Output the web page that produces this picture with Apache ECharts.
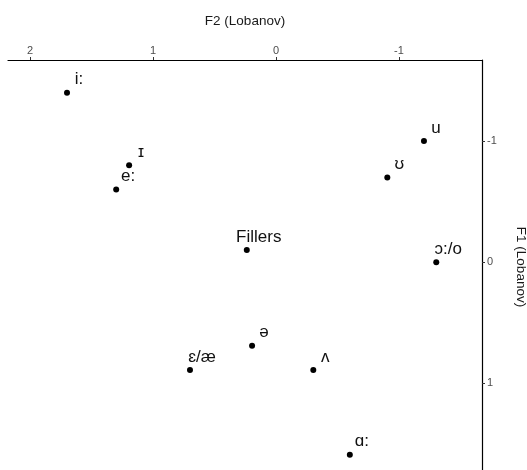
<!DOCTYPE html>
<html>
<head>
<meta charset="utf-8">
<script src="https://cdn.jsdelivr.net/npm/echarts@6/dist/echarts.min.js"></script>
<style>
  html, body { margin: 0; padding: 0; background: #fff; }
  #chart { width: 527px; height: 470px; }
</style>
</head>
<body>
<div id="chart"></div>
<script>
// vowel means, Lobanov normalised
const vowels = ['i:', 'ɪ', 'e:', 'Fillers', 'ə', 'ɛ/æ', 'ʌ', 'u', 'ʊ', 'ɔ:/o', 'ɑ:'];
const f2 = [1.70, 1.195, 1.30, 0.238, 0.195, 0.70, -0.303, -1.203, -0.905, -1.303, -0.60];
const f1 = [-1.40, -0.80, -0.60, -0.10, 0.69, 0.89, 0.89, -1.00, -0.70, 0.00, 1.59];
const f2Ticks = [-1, 0, 1, 2];
const f1Ticks = [-1, 0, 1];

const font = '"Liberation Sans", Arial, "DejaVu Sans", sans-serif';

let points = [];
for (let i = 0; i < vowels.length; i++) {
  points.push({ name: vowels[i], value: [f2[i], f1[i]] });
}

const chart = echarts.init(document.getElementById('chart'));
chart.setOption({
  animation: false,
  grid: { left: 8, right: 45, top: 60, bottom: -4, outerBoundsMode: 'none', containLabel: false },
  xAxis: {
    type: 'value',
    position: 'top',
    inverse: true,
    min: -1.675,
    max: 2.18,
    name: 'F2 (Lobanov)',
    nameLocation: 'middle',
    nameGap: 32,
    nameTextStyle: { fontFamily: font, fontSize: 13.5, color: '#1a1a1a' },
    axisLine: { show: true, onZero: false, lineStyle: { color: '#000', width: 1.2 } },
    axisTick: { show: true, length: 3, customValues: f2Ticks, lineStyle: { color: '#333' } },
    axisLabel: { customValues: f2Ticks, margin: 4, fontFamily: font, fontSize: 11, color: '#4d4d4d' },
    splitLine: { show: false }
  },
  yAxis: {
    type: 'value',
    position: 'right',
    inverse: true,
    min: -1.67,
    max: 1.75,
    name: 'F1 (Lobanov)',
    nameLocation: 'middle',
    nameRotate: -90,
    nameGap: 32,
    nameTextStyle: { fontFamily: font, fontSize: 13.5, color: '#1a1a1a' },
    axisLine: { show: true, onZero: false, lineStyle: { color: '#000', width: 1.2 } },
    axisTick: { show: true, length: 3, customValues: f1Ticks, lineStyle: { color: '#333' } },
    axisLabel: { customValues: f1Ticks, margin: 5, fontFamily: font, fontSize: 11, color: '#4d4d4d' },
    splitLine: { show: false }
  },
  series: [{
    type: 'scatter',
    data: points,
    symbolSize: 6,
    itemStyle: { color: '#000', opacity: 1 },
    label: {
      show: true,
      formatter: '{b}',
      position: 'inside',
      offset: [12, -13],
      fontFamily: font,
      fontSize: 17,
      color: '#111'
    }
  }]
});
</script>
</body>
</html>
